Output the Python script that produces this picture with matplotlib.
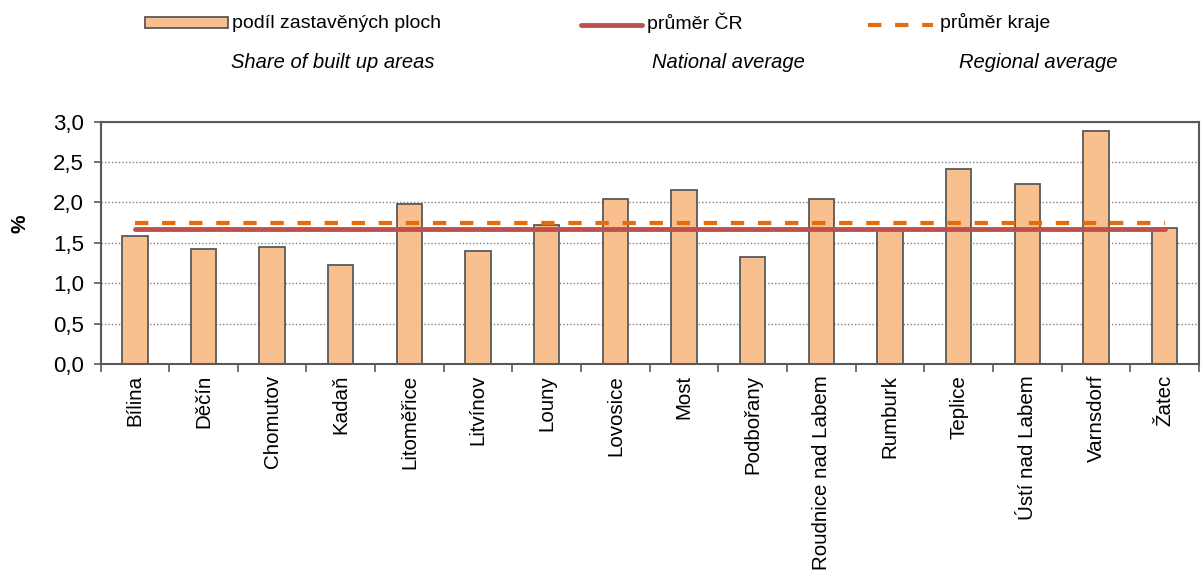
import matplotlib
matplotlib.use("Agg")
import matplotlib.pyplot as plt
from matplotlib.patches import Rectangle
from matplotlib.lines import Line2D
from matplotlib.ticker import FuncFormatter, FixedLocator
import numpy as np

plt.rcParams['font.family'] = ['Liberation Sans', 'DejaVu Sans']

categories = ["Bílina", "Děčín", "Chomutov", "Kadaň", "Litoměřice", "Litvínov",
              "Louny", "Lovosice", "Most", "Podbořany", "Roudnice nad Labem",
              "Rumburk", "Teplice", "Ústí nad Labem", "Varnsdorf", "Žatec"]
share = [1.59, 1.42, 1.45, 1.23, 1.98, 1.40, 1.72, 2.04, 2.16, 1.32, 2.04,
         1.66, 2.42, 2.23, 2.89, 1.69]
national_avg = 1.67
regional_avg = 1.75

legend_labels = ["podíl zastavěných ploch", "průměr ČR", "průměr kraje"]
legend_labels_en = ["Share of built up areas", "National average", "Regional average"]

bar_color = "#F9C08F"
edge_color = "#595959"
red = "#C0504D"
orange = "#E46C0A"
dash_pat = (3.2, 3.3)

W, H = 1203, 578
fig = plt.figure(figsize=(W / 100, H / 100), dpi=100)
ax = fig.add_axes([100.5 / W, 1 - 364 / H, (1199 - 100.5) / W, (364 - 121.7) / H])

x = np.arange(len(categories))
ax.bar(x, share, width=0.37, color=bar_color, edgecolor=edge_color, linewidth=1.3, zorder=2)
ax.plot([x[0], x[-1]], [national_avg, national_avg], color=red, lw=3.5,
        solid_capstyle='round', zorder=3)
ax.plot([x[0], x[-1]], [regional_avg, regional_avg], color=orange, lw=3,
        dashes=dash_pat, zorder=4)

ax.set_xlim(-0.5, len(categories) - 0.5)
ax.set_ylim(0, 3.0)
ax.set_yticks(np.arange(0, 3.01, 0.5))
ax.yaxis.set_major_formatter(FuncFormatter(lambda v, p: f"{v:.1f}".replace('.', ',')))
ax.yaxis.grid(True, linestyle=(0, (1, 1.5)), color="#808080", lw=1, zorder=0)
ax.set_xticks(x)
ax.set_xticklabels(categories, rotation=90, fontsize=14.8)
ax.xaxis.set_minor_locator(FixedLocator(np.arange(-0.5, len(categories), 1.0)))
ax.tick_params(axis='x', which='major', length=0, pad=8)
ax.tick_params(axis='x', which='minor', length=6, width=1.2, color="#595959", direction='out')
ax.tick_params(axis='y', length=5, width=1.2, color="#595959", direction='out',
               labelsize=16, pad=7)
for s in ax.spines.values():
    s.set_color("#595959")
    s.set_linewidth(1.5)


def fx(px):
    return px / W


def fy(py):
    return 1 - py / H


fig.text(fx(20), fy(224), "%", fontsize=15, fontweight='bold', rotation=90,
         ha='center', va='center')

# legend drawn manually in figure coordinates
fig.patches.append(Rectangle((fx(145), fy(28)), fx(228) - fx(145), fy(17) - fy(28),
                             transform=fig.transFigure, facecolor=bar_color,
                             edgecolor=edge_color, lw=1.3))
fig.text(fx(232), fy(23), legend_labels[0], fontsize=14, va='center', ha='left')
fig.lines.append(Line2D([fx(581), fx(642)], [fy(25), fy(25)], transform=fig.transFigure,
                        color=red, lw=3.5, solid_capstyle='round'))
fig.text(fx(647), fy(23), legend_labels[1], fontsize=14, va='center', ha='left')
fig.lines.append(Line2D([fx(868), fx(933)], [fy(25), fy(25)], transform=fig.transFigure,
                        color=orange, lw=3, dashes=dash_pat))
fig.text(fx(940), fy(23), legend_labels[2], fontsize=14, va='center', ha='left')

fig.text(fx(333), fy(62), legend_labels_en[0], fontsize=14.5, style='italic', ha='center', va='center')
fig.text(fx(728), fy(62), legend_labels_en[1], fontsize=14.5, style='italic', ha='center', va='center')
fig.text(fx(1038), fy(62), legend_labels_en[2], fontsize=14.5, style='italic', ha='center', va='center')

fig.savefig("out.png", dpi=100)
